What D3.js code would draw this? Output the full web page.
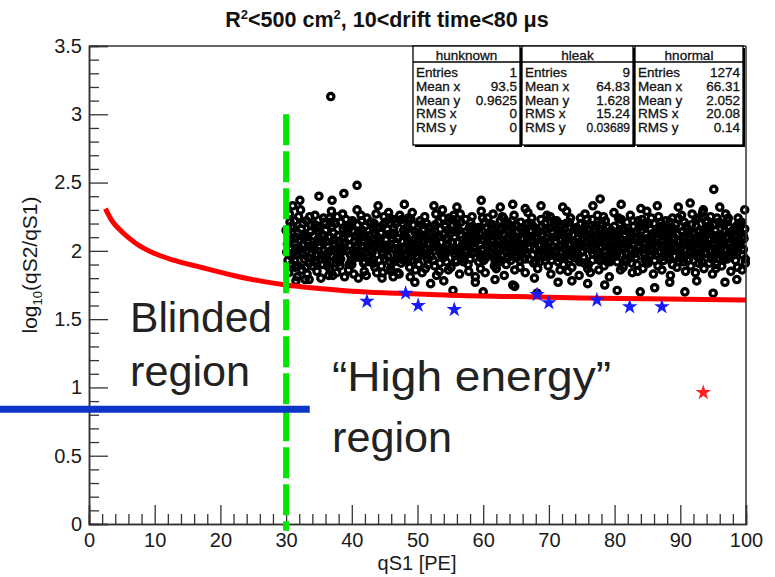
<!DOCTYPE html>
<html><head><meta charset="utf-8">
<script src="https://cdn.jsdelivr.net/npm/d3@7/dist/d3.min.js"></script>
<style>
html,body{margin:0;padding:0;background:#fff;}
svg{display:block;}
text{font-family:"Liberation Sans",Arial,Helvetica,sans-serif;}
</style></head>
<body><div id="chart"></div>
<script>
// ---------------- DATA ----------------
const titleText = ["R","2","<500 cm","2",", 10<drift time<80  \u03bcs"];
const xLabel = "qS1 [PE]";
const yMajorTicks = [0,0.5,1,1.5,2,2.5,3,3.5];
const yTickLabels = ["0","0.5","1","1.5","2","2.5","3","3.5"];
const xMajorTicks = [0,10,20,30,40,50,60,70,80,90,100];
const xTickLabels = ["0","10","20","30","40","50","60","70","80","90","100"];

// hnormal (black open markers): flat list x,y
const normalXY = [
30.2,2.05,30.4,1.84,30.6,2.21,30.8,1.96,30.3,2.12,30.9,1.90,30.5,2.27,30.1,1.99,30.7,2.08,
31.1,2.17,31.3,1.93,31.5,2.02,31.7,1.81,31.9,2.25,31.2,2.09,31.6,1.97,31.8,2.13,31.4,1.88,
32.0,2.01,32.2,2.30,32.4,1.86,32.6,2.10,32.8,1.94,32.3,2.16,32.7,2.05,32.9,1.79,32.5,1.99,
33.1,2.22,33.3,2.06,33.5,1.91,33.7,2.14,33.9,1.98,33.2,1.83,33.6,2.03,33.8,2.19,33.4,1.95,
34.0,1.89,34.2,2.11,34.4,2.26,34.6,1.97,34.8,2.07,34.3,2.01,34.7,1.85,34.9,2.17,34.5,1.93,
35.1,2.04,35.3,1.80,35.5,2.12,35.7,2.24,35.9,1.95,35.2,2.18,35.6,1.90,35.8,2.00,35.4,2.08,
36.0,2.15,36.2,1.92,36.4,2.03,36.6,1.87,36.8,2.21,36.3,1.98,36.7,2.10,36.9,2.29,36.5,1.82,
37.1,1.96,37.3,2.08,37.5,2.20,37.7,1.84,37.9,2.02,37.2,2.13,37.6,1.91,37.8,2.25,37.4,2.05,
38.0,2.11,38.2,1.89,38.4,1.99,38.6,2.27,38.8,2.06,38.3,1.94,38.7,2.16,38.9,1.81,38.5,2.01,
39.1,2.23,39.3,2.00,39.5,1.86,39.7,2.09,39.9,1.93,39.2,2.17,39.6,2.04,39.8,1.97,39.4,2.13,
40.0,1.90,40.2,2.14,40.4,2.07,40.6,1.98,40.8,2.30,40.3,1.83,40.7,2.02,40.9,2.19,40.5,1.95,
41.1,2.09,41.3,1.95,41.5,2.22,41.7,2.03,41.9,1.85,41.2,2.00,41.6,2.15,41.8,1.91,41.4,2.26,
42.0,2.18,42.2,1.82,42.4,1.97,42.6,2.11,42.8,2.05,42.3,2.24,42.7,1.92,42.9,2.01,42.5,2.08,
43.1,1.99,43.3,2.16,43.5,1.88,43.7,2.27,43.9,2.10,43.2,1.94,43.6,2.04,43.8,1.84,43.4,2.20,
44.0,2.06,44.2,1.93,44.4,2.13,44.6,1.80,44.8,2.19,44.3,2.02,44.7,1.97,44.9,2.25,44.5,1.89,
45.1,2.21,45.3,2.04,45.5,1.96,45.7,2.12,45.9,1.87,45.2,2.08,45.6,2.28,45.8,1.92,45.4,2.00,
46.0,1.85,46.2,2.09,46.4,2.17,46.6,2.01,46.8,1.94,46.3,2.23,46.7,2.06,46.9,1.98,46.5,2.13,
47.1,2.02,47.3,2.26,47.5,1.91,47.7,2.07,47.9,2.15,47.2,1.83,47.6,1.99,47.8,2.20,47.4,1.95,
48.0,2.12,48.2,1.97,48.4,2.05,48.6,2.24,48.8,1.88,48.3,2.10,48.7,2.00,48.9,1.81,48.5,2.18,
49.1,1.93,49.3,2.19,49.5,2.08,49.7,1.86,49.9,2.03,49.2,2.28,49.6,2.14,49.8,1.96,49.4,2.01,
50.0,2.07,50.2,1.90,50.4,2.22,50.6,2.11,50.8,1.98,50.3,2.04,50.7,1.84,50.9,2.16,50.5,2.00,
51.1,2.25,51.3,2.01,51.5,1.94,51.7,2.17,51.9,2.09,51.2,1.87,51.6,2.05,51.8,2.12,51.4,1.97,
52.0,1.96,52.2,2.13,52.4,2.03,52.6,1.89,52.8,2.27,52.3,2.08,52.7,2.19,52.9,1.82,52.5,2.00,
53.1,2.10,53.3,1.85,53.5,2.16,53.7,2.00,53.9,1.95,53.2,2.21,53.6,2.06,53.8,2.30,53.4,1.91,
54.0,2.02,54.2,2.18,54.4,1.92,54.6,2.08,54.8,2.24,54.3,1.98,54.7,1.86,54.9,2.12,54.5,2.05,
55.1,1.88,55.3,2.06,55.5,2.26,55.7,1.97,55.9,2.14,55.2,2.02,55.6,2.10,55.8,1.93,55.4,2.19,
56.0,2.20,56.2,1.99,56.4,1.83,56.6,2.12,56.8,2.04,56.3,2.15,56.7,1.94,56.9,2.08,56.5,2.27,
57.1,2.05,57.3,2.23,57.5,2.00,57.7,1.90,57.9,2.17,57.2,1.96,57.6,2.11,57.8,1.85,57.4,2.09,
58.0,1.94,58.2,2.10,58.4,2.18,58.6,2.03,58.8,1.81,58.3,2.25,58.7,1.99,58.9,2.14,58.5,2.06,
59.1,2.16,59.3,1.92,59.5,2.04,59.7,2.29,59.9,1.97,59.2,2.09,59.6,1.87,59.8,2.01,59.4,2.13,
60.0,2.01,60.2,2.21,60.4,1.95,60.6,2.07,60.8,2.13,60.3,1.84,60.7,2.24,60.9,1.99,60.5,2.10,
61.1,2.11,61.3,1.98,61.5,2.27,61.7,1.89,61.9,2.05,61.2,2.15,61.6,2.02,61.8,1.93,61.4,2.19,
62.0,1.87,62.2,2.07,62.4,2.12,62.6,2.22,62.8,1.96,62.3,2.01,62.7,2.17,62.9,2.04,62.5,1.92,
63.1,2.24,63.3,2.03,63.5,1.90,63.7,2.09,63.9,2.15,63.2,1.82,63.6,1.99,63.8,2.20,63.4,2.06,
64.0,2.08,64.2,1.93,64.4,2.18,64.6,2.02,64.8,1.86,64.3,2.12,64.7,2.26,64.9,1.97,64.5,2.04,
65.1,1.95,65.3,2.14,65.5,2.05,65.7,2.21,65.9,1.99,65.2,2.10,65.6,1.88,65.8,2.16,65.4,2.00,
66.0,2.17,66.2,2.00,66.4,1.84,66.6,2.11,66.8,2.28,66.3,1.94,66.7,2.06,66.9,2.02,66.5,2.13,
67.1,2.03,67.3,2.20,67.5,1.97,67.7,1.91,67.9,2.10,67.2,2.15,67.6,2.07,67.8,1.80,67.4,2.24,
68.0,1.92,68.2,2.09,68.4,2.14,68.6,2.00,68.8,2.23,68.3,1.87,68.7,2.04,68.9,2.18,68.5,1.98,
69.1,2.12,69.3,1.96,69.5,2.01,69.7,2.26,69.9,1.89,69.2,2.07,69.6,2.16,69.8,2.03,69.4,1.93,
70.0,2.06,70.2,2.25,70.4,1.93,70.6,2.13,70.8,2.00,70.3,1.83,70.7,2.10,70.9,2.19,70.5,1.97,
71.1,1.99,71.3,2.11,71.5,2.18,71.7,1.86,71.9,2.04,71.2,2.22,71.6,1.95,71.8,2.08,71.4,2.14,
72.0,2.14,72.2,1.90,72.4,2.06,72.6,2.20,72.8,1.97,72.3,2.02,72.7,2.29,72.9,1.85,72.5,2.10,
73.1,2.21,73.3,2.05,73.5,1.88,73.7,2.01,73.9,2.16,73.2,1.94,73.6,2.12,73.8,2.07,73.4,1.99,
74.0,1.97,74.2,2.17,74.4,2.09,74.6,1.82,74.8,2.24,74.3,2.03,74.7,1.92,74.9,2.13,74.5,2.06,
75.1,2.08,75.3,1.95,75.5,2.27,75.7,2.11,75.9,1.87,75.2,2.00,75.6,2.19,75.8,2.03,75.4,1.91,
76.0,1.90,76.2,2.12,76.4,2.01,76.6,2.23,76.8,2.06,76.3,1.84,76.7,1.98,76.9,2.16,76.5,2.09,
77.1,2.15,77.3,1.99,77.5,2.07,77.7,1.93,77.9,2.20,77.2,2.11,77.6,1.86,77.8,2.03,77.4,2.26,
78.0,2.02,78.2,2.19,78.4,1.89,78.6,2.10,78.8,1.96,78.3,2.25,78.7,2.05,78.9,1.92,78.5,2.14,
79.1,1.94,79.3,2.08,79.5,2.15,79.7,2.01,79.9,2.28,79.2,1.81,79.6,2.11,79.8,1.98,79.4,2.04,
80.0,2.18,80.2,2.03,80.4,1.92,80.6,2.24,80.8,2.09,80.3,1.97,80.7,2.13,80.9,1.86,80.5,2.00,
81.1,2.05,81.3,1.88,81.5,2.12,81.7,1.99,81.9,2.21,81.2,2.16,81.6,1.94,81.8,2.07,81.4,2.02,
82.0,1.98,82.2,2.14,82.4,2.26,82.6,1.91,82.8,2.04,82.3,2.09,82.7,1.84,82.9,2.18,82.5,2.01,
83.1,2.13,83.3,2.00,83.5,1.85,83.7,2.17,83.9,2.07,83.2,1.95,83.6,2.22,83.8,2.03,83.4,1.90,
84.0,2.09,84.2,2.23,84.4,2.01,84.6,1.94,84.8,2.12,84.3,1.87,84.7,2.06,84.9,2.29,84.5,1.98,
85.1,1.91,85.3,2.06,85.5,2.16,85.7,2.02,85.9,1.83,85.2,2.20,85.6,1.97,85.8,2.11,85.4,2.04,
86.0,2.20,86.2,1.97,86.4,2.08,86.6,1.89,86.8,2.15,86.3,2.03,86.7,2.25,86.9,1.99,86.5,2.10,
87.1,2.04,87.3,2.17,87.5,1.93,87.7,2.10,87.9,2.00,87.2,1.86,87.6,2.13,87.8,2.22,87.4,1.96,
88.0,1.95,88.2,2.11,88.4,2.21,88.6,2.05,88.8,1.90,88.3,2.00,88.7,2.16,88.9,2.08,88.5,1.82,
89.1,2.16,89.3,2.02,89.5,1.88,89.7,2.24,89.9,2.07,89.2,1.96,89.6,2.12,89.8,1.92,89.4,2.03,
90.0,2.01,90.2,2.26,90.4,2.10,90.6,1.96,90.8,1.85,90.3,2.14,90.7,2.05,90.9,2.18,90.5,1.92,
91.1,1.93,91.3,2.09,91.5,2.00,91.7,2.19,91.9,2.13,91.2,2.04,91.6,1.89,91.8,2.27,91.4,1.98,
92.0,2.12,92.2,1.98,92.4,2.23,92.6,2.03,92.8,1.91,92.3,1.84,92.7,2.08,92.9,2.15,92.5,2.01,
93.1,2.06,93.3,1.92,93.5,2.15,93.7,1.99,93.9,2.21,93.2,2.10,93.6,1.87,93.8,2.04,93.4,2.28,
94.0,1.98,94.2,2.14,94.4,2.04,94.6,2.25,94.8,1.94,94.3,2.08,94.7,2.00,94.9,1.83,94.5,2.18,
95.1,2.19,95.3,2.01,95.5,1.90,95.7,2.11,95.9,2.05,95.2,1.96,95.6,2.24,95.8,2.09,95.4,1.87,
96.0,2.03,96.2,2.20,96.4,1.97,96.6,2.07,96.8,2.14,96.3,1.89,96.7,2.01,96.9,2.27,96.5,1.93,
97.1,1.94,97.3,2.10,97.5,2.17,97.7,1.85,97.9,2.02,97.2,2.22,97.6,2.06,97.8,1.99,97.4,2.13,
98.0,2.15,98.2,2.00,98.4,1.93,98.6,2.12,98.8,2.24,98.3,2.07,98.7,1.88,98.9,2.03,98.5,2.18,
99.1,2.05,99.3,2.21,99.5,1.97,99.7,2.09,99.9,1.91,99.2,2.13,99.6,2.01,99.8,2.16,99.4,1.86,
// core, second pass
30.0,2.15,30.3,1.93,30.6,2.02,30.8,2.18,31.0,1.98,31.3,2.22,31.5,2.10,31.8,1.89,
32.1,2.08,32.4,1.97,32.6,2.20,32.9,2.12,33.0,1.88,33.2,2.11,33.6,2.25,33.9,2.04,
34.1,2.03,34.4,2.19,34.6,1.91,34.9,2.09,35.0,2.14,35.4,1.97,35.6,2.06,35.8,2.21,
36.1,2.07,36.3,1.89,36.6,2.24,36.8,2.00,37.0,2.18,37.4,2.00,37.6,1.94,37.9,2.11,
38.1,1.92,38.3,2.21,38.6,2.09,38.8,2.02,39.0,2.06,39.4,2.15,39.6,1.90,39.9,2.20,
40.1,2.22,40.4,1.96,40.6,2.11,40.8,2.04,41.0,1.97,41.3,2.13,41.6,2.07,41.9,1.92,
42.1,2.10,42.4,2.03,42.6,1.95,42.9,2.21,43.0,2.05,43.3,1.91,43.5,2.13,43.8,2.17,
44.1,2.17,44.3,2.08,44.6,1.99,44.9,2.03,45.0,1.94,45.4,2.16,45.6,2.02,45.8,2.24,
46.1,2.12,46.4,1.92,46.6,2.20,46.8,2.05,47.0,2.09,47.3,2.00,47.6,2.23,47.9,1.93,
48.1,2.02,48.4,2.16,48.6,1.94,48.8,2.07,49.0,2.23,49.3,1.98,49.6,2.04,49.9,2.12,
50.1,1.95,50.3,2.12,50.6,2.19,50.8,2.08,51.0,2.06,51.4,2.20,51.6,1.90,51.9,2.01,
52.1,2.17,52.4,1.93,52.6,2.10,52.8,2.05,53.0,2.03,53.3,2.11,53.6,1.97,53.9,2.24,
54.1,1.96,54.4,2.09,54.6,2.15,54.9,2.01,55.0,2.13,55.3,2.23,55.6,2.00,55.9,1.92,
56.1,2.06,56.4,2.01,56.6,2.21,56.8,1.95,57.0,1.92,57.4,2.14,57.6,2.05,57.9,2.02,
58.1,2.21,58.3,1.98,58.6,2.11,58.9,2.07,59.0,2.09,59.3,2.17,59.6,1.95,59.9,2.24,
60.1,1.93,60.4,2.04,60.6,2.17,60.8,2.10,61.0,2.20,61.3,2.08,61.6,1.96,61.9,2.13,
62.1,2.02,62.4,1.94,62.6,2.15,62.9,2.25,63.0,2.12,63.4,2.00,63.6,2.18,63.8,1.95,
64.1,1.99,64.4,2.22,64.6,2.10,64.9,2.06,65.0,2.19,65.3,2.03,65.6,1.93,65.9,2.09,
66.1,2.05,66.4,2.15,66.6,1.98,66.8,2.20,67.0,1.94,67.3,2.08,67.6,2.18,67.9,2.02,
68.1,2.16,68.4,2.04,68.6,1.92,68.9,2.11,69.0,2.00,69.4,2.20,69.6,2.09,69.9,1.96,
70.1,2.17,70.3,1.98,70.6,2.03,70.8,2.22,71.0,2.07,71.4,1.92,71.6,2.14,71.9,2.19,
72.1,1.95,72.4,2.16,72.6,2.00,72.8,2.08,73.0,2.13,73.3,2.24,73.6,1.96,73.9,2.03,
74.1,2.02,74.4,1.94,74.6,2.15,74.9,2.20,75.0,1.99,75.3,2.14,75.6,2.06,75.8,2.23,
76.1,2.19,76.4,2.04,76.6,1.93,76.9,2.11,77.0,2.01,77.3,2.18,77.6,2.09,77.9,1.95,
78.1,2.12,78.4,2.00,78.6,2.22,78.8,2.07,79.0,2.17,79.3,1.92,79.6,2.03,79.9,2.13,
80.1,1.96,80.4,2.11,80.6,2.06,80.8,2.20,81.0,2.23,81.3,2.02,81.6,2.15,81.9,1.93,
82.1,2.06,82.4,1.95,82.6,2.12,82.8,2.22,83.0,1.98,83.4,2.10,83.6,2.04,83.9,2.19,
84.1,2.15,84.4,2.05,84.6,2.20,84.8,1.92,85.0,2.09,85.3,1.96,85.6,2.24,85.9,2.13,
86.1,1.93,86.4,2.14,86.6,2.03,86.9,2.18,87.0,2.21,87.3,2.07,87.6,1.99,87.9,2.12,
88.1,2.03,88.4,1.94,88.6,2.17,88.8,2.24,89.0,2.10,89.3,2.19,89.6,2.00,89.9,1.95,
90.1,1.97,90.4,2.06,90.6,2.21,90.8,2.11,91.0,2.16,91.3,1.94,91.6,2.10,91.9,2.05,
92.1,2.07,92.4,2.18,92.6,1.96,92.8,2.24,93.0,1.95,93.4,2.02,93.6,2.12,93.9,2.17,
94.1,2.22,94.4,1.91,94.6,2.09,94.8,2.12,95.0,2.04,95.3,2.15,95.6,1.98,95.9,2.21,
96.1,2.12,96.4,2.05,96.6,2.19,96.8,1.95,97.0,2.00,97.3,2.24,97.6,2.13,97.9,2.08,
98.1,1.97,98.4,2.10,98.6,2.05,98.9,2.20,99.1,2.18,99.4,2.01,99.6,2.11,99.9,1.94,
// upper outliers
36.8,3.13,40.8,2.48,38.8,2.42,35.0,2.40,37.0,2.37,32.1,2.37,95.1,2.45,77.8,2.38,76.7,2.33,
72.1,2.32,64.5,2.34,66.4,2.31,59.7,2.37,56.0,2.32,62.6,2.32,84.0,2.31,89.7,2.32,93.5,2.30,
96.0,2.32,99.8,2.30,31.0,2.33,44.0,2.33,48.0,2.34,52.5,2.33,68.8,2.33,81.0,2.34,86.5,2.33,91.5,2.35,
// lower outliers
83.9,1.70,86.1,1.73,88.4,1.77,95.0,1.69,96.8,1.77,98.6,1.79,90.7,1.70,80.4,1.71,68.2,1.69,
75.9,1.76,71.4,1.77,64.8,1.74,55.4,1.71,60.0,1.70,54.0,1.78,49.6,1.77,64.5,1.75,47.0,1.84,
58.8,1.77,61.8,1.79,44.7,1.84,46.3,1.81,37.1,1.82,31.5,1.78,33.5,1.79,41.0,1.80,52.0,1.76,
73.5,1.78,78.5,1.75,92.5,1.78
];

// hleak (blue stars)
const leakX = [42.3,48.2,50.1,55.6,68.2,70.0,77.3,82.3,87.2];
const leakY = [1.63,1.69,1.60,1.57,1.68,1.62,1.64,1.59,1.59];
// hunknown (red star)
const unknownX = [93.5];
const unknownY = [0.9625];

// red discrimination curve
const cutX = [2.5,3.5,5,7,10,13,17,22,26,30,35,40,47,55,65,75,85,100];
const cutY = [2.31,2.22,2.14,2.06,1.98,1.93,1.88,1.82,1.78,1.75,1.725,1.705,1.69,1.675,1.665,1.655,1.65,1.64];

// annotation lines
const greenX = 30, greenY = [3.0, -0.05];
const blueY = 0.84, blueX = [-13.6, 33.6];

// stats boxes
const statTitles = ["hunknown","hleak","hnormal"];
const statLabels = ["Entries","Mean x","Mean y","RMS x","RMS y"];
const statValues = [
  ["1","93.5","0.9625","0","0"],
  ["9","64.83","1.628","15.24","0.03689"],
  ["1274","66.31","2.052","20.08","0.14"]
];

// ---------------- DRAW ----------------
const W = 775, H = 577;
const svg = d3.select("#chart").append("svg").attr("width", W).attr("height", H);

const x = d3.scaleLinear().domain([0,100]).range([89,746]);
const y = d3.scaleLinear().domain([0,3.5]).range([524,46]);

const normal = d3.range(normalXY.length/2).map(i => [normalXY[2*i], normalXY[2*i+1]]);

// title
const tt = svg.append("text").attr("x", 387).attr("y", 27).attr("text-anchor","middle")
  .attr("font-size", 21.5).attr("font-weight","bold").attr("fill","#111");
tt.append("tspan").text(titleText[0]);
tt.append("tspan").text(titleText[1]).attr("font-size",13).attr("dy",-8);
tt.append("tspan").text(titleText[2]).attr("dy",8);
tt.append("tspan").text(titleText[3]).attr("font-size",13).attr("dy",-8);
tt.append("tspan").text(titleText[4]).attr("dy",8);

// black markers
const plot = svg.append("g");
plot.selectAll("circle.n").data(normal).join("circle").attr("class","n")
  .attr("cx", d => x(d[0])).attr("cy", d => y(d[1])).attr("r", 3.2)
  .attr("fill","none").attr("stroke","#000").attr("stroke-width", 3.2);

// red curve
const cut = cutX.map((v,i) => [v, cutY[i]]);
plot.append("path").datum(cut)
  .attr("d", d3.line().x(d => x(d[0])).y(d => y(d[1])).curve(d3.curveMonotoneX))
  .attr("fill","none").attr("stroke","#ff0000").attr("stroke-width",5);

// stars
const star = d3.symbol().type(d3.symbolStar).size(75);
plot.selectAll("path.leak").data(leakX.map((v,i)=>[v,leakY[i]])).join("path").attr("class","leak")
  .attr("d", star).attr("transform", d => `translate(${x(d[0])},${y(d[1])})`).attr("fill","#1a1aff");
plot.selectAll("path.unk").data(unknownX.map((v,i)=>[v,unknownY[i]])).join("path").attr("class","unk")
  .attr("d", star).attr("transform", d => `translate(${x(d[0])},${y(d[1])})`).attr("fill","#ff2020");

// axes
const axG = svg.append("g");
const yMinor = d3.range(0, 3.501, 0.1).filter(v => Math.abs(v*2 - Math.round(v*2)) > 1e-6);
axG.append("g").attr("transform","translate(89,0)")
  .call(d3.axisLeft(y).tickValues(yMinor).tickSize(-10).tickFormat(""));
axG.append("g").attr("transform","translate(89,0)")
  .call(d3.axisLeft(y).tickValues(yMajorTicks).tickSize(-19).tickPadding(7)
        .tickFormat((d,i) => yTickLabels[i]));
const xMinor = d3.range(0, 100.1, 2).filter(v => v % 10 !== 0);
axG.append("g").attr("transform","translate(0,524)")
  .call(d3.axisBottom(x).tickValues(xMinor).tickSize(-10).tickFormat(""));
axG.append("g").attr("transform","translate(0,524)")
  .call(d3.axisBottom(x).tickValues(xMajorTicks).tickSize(-19).tickPadding(9)
        .tickFormat((d,i) => xTickLabels[i]));
axG.selectAll(".domain").attr("stroke","#333").attr("stroke-width",1.5);
axG.selectAll(".tick line").attr("stroke","#333").attr("stroke-width",1.3);
axG.selectAll(".tick text").attr("font-size",20).attr("fill","#1a1a1a")
  .attr("font-family","'Liberation Sans',Arial,sans-serif");
// frame top & right
svg.append("line").attr("x1",x(0)).attr("x2",x(100)).attr("y1",y(3.5)).attr("y2",y(3.5)).attr("stroke","#333").attr("stroke-width",1.5);
svg.append("line").attr("x1",x(100)).attr("x2",x(100)).attr("y1",y(3.5)).attr("y2",y(0)).attr("stroke","#333").attr("stroke-width",1.5);

// axis titles
svg.append("text").attr("x", 417).attr("y", 570).attr("text-anchor","middle")
  .attr("font-size",20).attr("fill","#1a1a1a").text(xLabel);
const yl = svg.append("text").attr("transform","translate(37,265) rotate(-90)").attr("text-anchor","middle")
  .attr("font-size",21).attr("fill","#1a1a1a");
yl.append("tspan").text("log");
yl.append("tspan").text("10").attr("font-size",13).attr("dy",5);
yl.append("tspan").text("(qS2/qS1)").attr("dy",-5);

// stats boxes
const boxes = [[413,520],[522,633],[635,743]];
const bTop = 46, bBot = 145, hdr = 62;
boxes.forEach((b,k) => {
  const g = svg.append("g");
  g.append("rect").attr("x",b[0]+2).attr("y",bTop+2).attr("width",b[1]-b[0]).attr("height",bBot-bTop).attr("fill","#000");
  g.append("rect").attr("x",b[0]).attr("y",bTop).attr("width",b[1]-b[0]).attr("height",bBot-bTop)
    .attr("fill","#fff").attr("stroke","#000").attr("stroke-width",1.3);
  g.append("line").attr("x1",b[0]).attr("x2",b[1]).attr("y1",hdr).attr("y2",hdr).attr("stroke","#000").attr("stroke-width",1.3);
  g.append("text").attr("x",(b[0]+b[1])/2).attr("y",59.5).attr("text-anchor","middle")
    .attr("font-size",13.5).attr("fill","#111").attr("stroke","#111").attr("stroke-width",0.3).text(statTitles[k]);
  statLabels.forEach((l,i) => {
    const yy = 77 + i*13.8;
    g.append("text").attr("x",b[0]+3).attr("y",yy).attr("font-size",13.5).attr("fill","#111")
      .attr("stroke","#111").attr("stroke-width",0.3).text(l);
    g.append("text").attr("x",b[1]-3).attr("y",yy).attr("text-anchor","end")
      .attr("font-size", statValues[k][i].length > 6 ? 12 : 13.5).attr("fill","#111")
      .attr("stroke","#111").attr("stroke-width",0.3).text(statValues[k][i]);
  });
});

// green dashed line
svg.append("line").attr("x1",x(greenX)).attr("x2",x(greenX)).attr("y1",y(greenY[0])).attr("y2",y(greenY[1]))
  .attr("stroke","#00e600").attr("stroke-width",6).attr("stroke-dasharray","31,6");
// blue line
svg.append("line").attr("x1",x(blueX[0])).attr("x2",x(blueX[1])).attr("y1",y(blueY)).attr("y2",y(blueY))
  .attr("stroke","#0a35c8").attr("stroke-width",7);

// annotations
const ann = svg.append("g").attr("font-family","Lato,'Open Sans',sans-serif").attr("font-size",43).attr("fill","#222");
ann.append("text").attr("x",130).attr("y",332).attr("textLength",142).attr("lengthAdjust","spacingAndGlyphs").text("Blinded");
ann.append("text").attr("x",130).attr("y",386).attr("textLength",120).attr("lengthAdjust","spacingAndGlyphs").text("region");
ann.append("text").attr("x",332).attr("y",391).attr("textLength",279).attr("lengthAdjust","spacingAndGlyphs").text("\u201cHigh energy\u201d");
ann.append("text").attr("x",332).attr("y",452).attr("textLength",120).attr("lengthAdjust","spacingAndGlyphs").text("region");
</script></body></html>
